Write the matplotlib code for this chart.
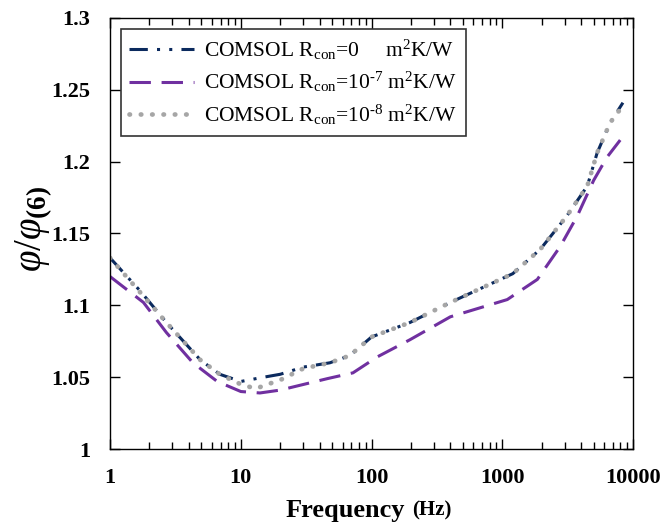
import numpy as np
import matplotlib.pyplot as plt
from matplotlib.ticker import FixedLocator, FixedFormatter, LogLocator, NullFormatter

plt.rcParams['font.family'] = 'Liberation Serif'
plt.rcParams['mathtext.fontset'] = 'custom'
plt.rcParams['mathtext.rm'] = 'Liberation Serif'
plt.rcParams['mathtext.it'] = 'Liberation Serif:italic'
plt.rcParams['mathtext.bf'] = 'Liberation Serif:bold'

# --- data ---
freq_r0 = [1, 1.7, 2.7, 4.9, 6.9, 10, 15, 20, 30, 48, 68, 100, 196, 400, 1200, 1950, 3100, 4460, 5300, 6660, 8350]
phi_r0 = [1.133, 1.110, 1.088, 1.062, 1.052, 1.047, 1.050, 1.052, 1.057, 1.060, 1.065, 1.078, 1.088, 1.102, 1.122, 1.139, 1.162, 1.183, 1.206, 1.227, 1.241]

freq_r7 = [1, 1.8, 2.7, 4.3, 6.6, 10, 14, 20, 46, 72, 110, 196, 400, 1090, 1850, 2770, 3730, 4990, 6300, 7960]
phi_r7 = [1.120, 1.102, 1.081, 1.060, 1.047, 1.040, 1.039, 1.041, 1.049, 1.053, 1.064, 1.076, 1.092, 1.104, 1.118, 1.141, 1.162, 1.187, 1.203, 1.215]

freq_r8 = [1, 1.7, 2.7, 4.9, 6.9, 10, 13, 16, 20, 30, 48, 68, 100, 196, 400, 1200, 1950, 3100, 4460, 5300, 6660, 8350]
phi_r8 = [1.133, 1.109, 1.088, 1.062, 1.052, 1.045, 1.042, 1.045, 1.048, 1.056, 1.060, 1.065, 1.078, 1.088, 1.102, 1.122, 1.139, 1.162, 1.183, 1.206, 1.227, 1.239]

y_ticks = [1, 1.05, 1.1, 1.15, 1.2, 1.25, 1.3]
y_labels = ['1', '1.05', '1.1', '1.15', '1.2', '1.25', '1.3']
x_ticks = [1, 10, 100, 1000, 10000]
x_labels = ['1', '10', '100', '1000', '10000']

fig = plt.figure(figsize=(6.63, 5.27), dpi=100)
ax = fig.add_axes([0.166, 0.148, 0.789, 0.818])

ax.plot(freq_r0, phi_r0, color='#0b2a5e', lw=2.2, linestyle=(0, (6, 3, 1, 3, 1, 3)),
        label=r'COMSOL R$_{\mathregular{con}}$=0     m$^{\mathregular{2}}$K/W')
ax.plot(freq_r7, phi_r7, color='#7030a0', lw=2.2, linestyle=(0, (7, 3.5)),
        label=r'COMSOL R$_{\mathregular{con}}$=10$^{\mathregular{‐7}}$ m$^{\mathregular{2}}$K/W')
ax.plot(freq_r8, phi_r8, color='#a6a6a6', lw=3.4, linestyle=(0, (0.1, 2.3)), dash_capstyle='round',
        label=r'COMSOL R$_{\mathregular{con}}$=10$^{\mathregular{‐8}}$ m$^{\mathregular{2}}$K/W')

ax.set_xscale('log')
ax.set_xlim(1, 10000)
ax.set_ylim(1, 1.3)
ax.xaxis.set_major_locator(FixedLocator(x_ticks))
ax.xaxis.set_major_formatter(FixedFormatter(x_labels))
ax.xaxis.set_minor_locator(LogLocator(base=10, subs=np.arange(2, 10)))
ax.xaxis.set_minor_formatter(NullFormatter())
ax.yaxis.set_major_locator(FixedLocator(y_ticks))
ax.yaxis.set_major_formatter(FixedFormatter(y_labels))

ax.tick_params(which='both', direction='in', top=True, right=True, width=1)
ax.tick_params(which='major', length=7, pad=14, labelsize=16)
ax.tick_params(which='minor', length=5)
for lab in ax.get_xticklabels() + ax.get_yticklabels():
    lab.set_fontweight('bold')
for sp in ax.spines.values():
    sp.set_linewidth(1)

# x label: large "Frequency" + smaller "(Hz)"
ax.text(0.564, -0.1415, 'Frequency', transform=ax.transAxes, ha='right', va='center',
        fontsize=19, fontweight='bold')
ax.text(0.577, -0.1415, '(Hz)', transform=ax.transAxes, ha='left', va='center',
        fontsize=15, fontweight='bold')
ax.set_ylabel(r'$\it{\varphi/\varphi}_{\mathbf{(6)}}$', fontsize=28)
ax.yaxis.set_label_coords(-0.105, 0.51)

leg = ax.legend(loc='upper left', bbox_to_anchor=(0.02, 0.975), fontsize=15.5, frameon=True,
                fancybox=False, edgecolor='black', handlelength=3.0, borderpad=0.4,
                labelspacing=0.4, handletextpad=0.5, borderaxespad=0)
leg.get_frame().set_linewidth(1.2)

fig.savefig('out.png', dpi=100)
